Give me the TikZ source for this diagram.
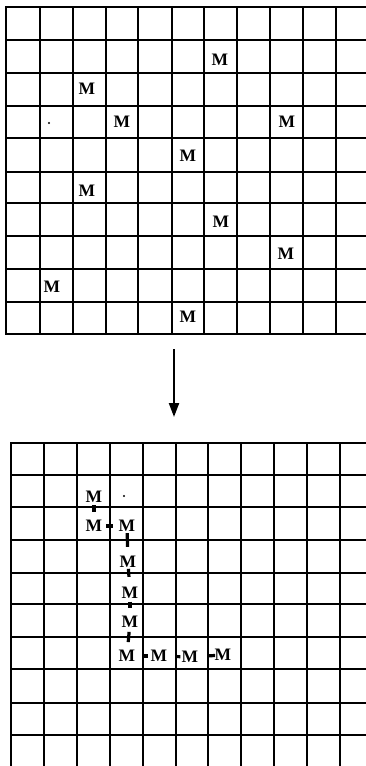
\documentclass[tikz,border=0pt]{standalone}
\usepackage{fontspec}
\setmainfont{Liberation Serif}
\usetikzlibrary{arrows.meta,calc}
\begin{document}
\begin{tikzpicture}[x=1pt,y=-1pt,
  gridline/.style={line width=2.5pt,line cap=rect},
  mlabel/.style={inner sep=0pt,font=\fontsize{17.5}{17.5}\selectfont\bfseries},
  bond/.style={line width=3.2pt},
  speck/.style={fill=black,draw=none}]
\useasboundingbox (0,0) rectangle (366,766);
\begin{scope}
\clip (0,0) rectangle (366,766);
% top grid
\foreach \x in {6,40,73,106,138,172,204,237,270,303,336}
  \draw[gridline] (\x,7) -- (\x,334);
\foreach \y in {7,40,73,106,138,172,203,236,269,302,334}
  \draw[gridline] (6,\y) -- (370,\y);
% bottom grid
\foreach \x in {11,44,77,110,143,176,208,241,274,307,340}
  \draw[gridline] (\x,443) -- (\x,770);
\foreach \y in {443,475,507,540,573,604,637,669,703,735}
  \draw[gridline] (11,\y) -- (370,\y);
\end{scope}
% top Ms
\node[mlabel] (t1) at (220,60) {M};
\node[mlabel] (t2) at (87,89) {M};
\node[mlabel] (t3) at (122,122) {M};
\node[mlabel] (t4) at (287,122) {M};
\node[mlabel] (t5) at (188,156) {M};
\node[mlabel] (t6) at (87,191) {M};
\node[mlabel] (t7) at (221,222) {M};
\node[mlabel] (t8) at (286,254) {M};
\node[mlabel] (t9) at (52,287) {M};
\node[mlabel] (t10) at (188,317) {M};
\fill[speck] (49,123) circle (1.1pt);
% arrow
\coordinate (a1) at (174,349);
\coordinate (a2) at (174,417);
\draw[line width=2.2pt,-{Triangle[width=10pt,length=14pt]}] (a1) -- (a2);
% bottom Ms
\node[mlabel] (b1) at (94,497) {M};
\node[mlabel] (b2) at (94,526) {M};
\node[mlabel] (b3) at (127,526) {M};
\node[mlabel] (b4) at (128,562) {M};
\node[mlabel] (b5) at (130,593) {M};
\node[mlabel] (b6) at (130,622) {M};
\node[mlabel] (b7) at (127,656) {M};
\node[mlabel] (b8) at (159,656) {M};
\node[mlabel] (b9) at (190,657) {M};
\node[mlabel] (b10) at (223,655) {M};
\fill[speck] (124,496) circle (1.1pt);
% bonds
\draw[bond] ($(b1)!0.28!(b2)$) -- ($(b1)!0.52!(b2)$);
\draw[bond] ($(b2)!0.36!(b3)$) -- ($(b2)!0.58!(b3)$);
\draw[bond] ($(b3)!0.2!(b4)$) -- ($(b3)!0.58!(b4)$);
\draw[bond] ($(b4)!0.22!(b5)$) -- ($(b4)!0.48!(b5)$);
\draw[bond] ($(b5)!0.3!(b6)$) -- ($(b5)!0.5!(b6)$);
\draw[bond] ($(b6)!0.29!(b7)$) -- ($(b6)!0.59!(b7)$);
\draw[bond] ($(b7)!0.5!(b8)$) -- ($(b7)!0.66!(b8)$);
\draw[bond] ($(b8)!0.53!(b9)$) -- ($(b8)!0.69!(b9)$);
\draw[bond] ($(b9)!0.52!(b10)$) -- ($(b9)!0.76!(b10)$);
\end{tikzpicture}
\end{document}
